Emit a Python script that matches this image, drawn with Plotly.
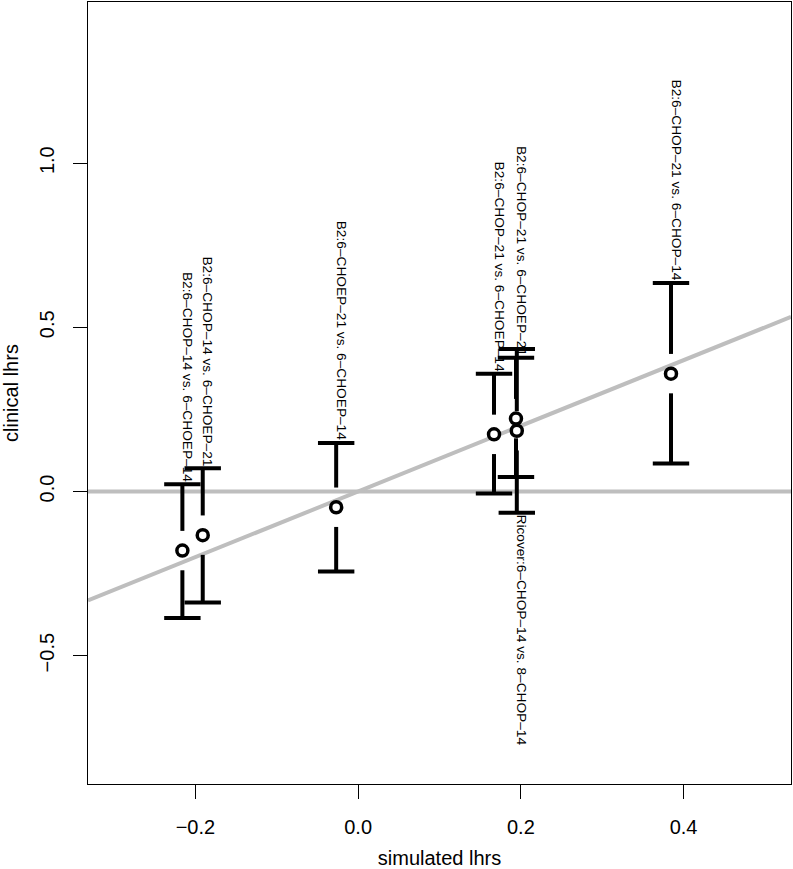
import plotly.graph_objects as go

# simulated vs clinical log hazard ratios, with CI
labels = [
    "B2:6–CHOP–14 vs. 6–CHOEP–14",
    "B2:6–CHOP–14 vs. 6–CHOEP–21",
    "B2:6–CHOEP–21 vs. 6–CHOEP–14",
    "B2:6–CHOP–21 vs. 6–CHOEP–14",
    "B2:6–CHOP–21 vs. 6–CHOEP–21",
    "Ricover:6–CHOP–14 vs. 8–CHOP–14",
    "B2:6–CHOP–21 vs. 6–CHOP–14",
]
simulated = [-0.216, -0.191, -0.027, 0.167, 0.194, 0.195, 0.3845]
clinical = [-0.180, -0.133, -0.048, 0.174, 0.222, 0.185, 0.359]
ci_low = [-0.385, -0.338, -0.244, -0.006, 0.044, -0.065, 0.085]
ci_high = [0.022, 0.071, 0.148, 0.359, 0.407, 0.434, 0.635]
label_side = ["above", "above", "above", "above", "above", "below", "above"]

x_range = [-0.332, 0.532]
y_range = [-0.891, 1.491]
FONT = "Liberation Sans, Arial, Helvetica, sans-serif"
gap = 0.06  # blank space around each point on the CI stems

fig = go.Figure()

# reference lines: y = 0 and y = x
fig.add_trace(go.Scatter(x=x_range, y=[0, 0], mode="lines",
                         line=dict(color="#BEBEBE", width=4), hoverinfo="skip"))
fig.add_trace(go.Scatter(x=x_range, y=x_range, mode="lines",
                         line=dict(color="#BEBEBE", width=4), hoverinfo="skip"))

# CI stems with a gap around the point
sx, sy = [], []
for x, y, lo, hi in zip(simulated, clinical, ci_low, ci_high):
    sx += [x, x, None, x, x, None]
    sy += [hi, y + gap, None, y - gap, lo, None]
fig.add_trace(go.Scatter(x=sx, y=sy, mode="lines",
                         line=dict(color="black", width=4), hoverinfo="skip"))

# caps
fig.add_trace(go.Scatter(
    x=simulated + simulated, y=ci_low + ci_high, mode="markers",
    marker=dict(symbol="line-ew", size=26, line=dict(color="black", width=4)),
    hoverinfo="skip"))

# points
fig.add_trace(go.Scatter(
    x=simulated, y=clinical, mode="markers", text=labels,
    marker=dict(symbol="circle", size=11, color="white",
                line=dict(color="black", width=3.5))))

for lab, x, lo, hi, side in zip(labels, simulated, ci_low, ci_high, label_side):
    fig.add_annotation(
        x=x, y=hi if side == "above" else lo, text=lab, showarrow=False,
        textangle=90, xshift=5,
        yanchor="bottom" if side == "above" else "top",
        font=dict(family=FONT, size=13.7, color="black"))

axis_common = dict(
    showgrid=False, zeroline=False, showline=True, linecolor="black",
    linewidth=1, mirror=True, ticks="outside", ticklen=14, tickwidth=1,
    tickcolor="black", ticklabelstandoff=11,
    tickfont=dict(family=FONT, size=20, color="black"),
)

fig.update_xaxes(range=x_range, tickvals=[-0.2, 0.0, 0.2, 0.4],
                 ticktext=["−0.2", "0.0", "0.2", "0.4"],
                 title=dict(text="simulated lhrs", standoff=16,
                            font=dict(family=FONT, size=20, color="black")),
                 **axis_common)
fig.update_yaxes(range=y_range, tickvals=[-0.5, 0.0, 0.5, 1.0],
                 ticktext=["−0.5", "0.0", "0.5", "1.0"], tickangle=-90,
                 title=dict(text="clinical lhrs", standoff=12,
                            font=dict(family=FONT, size=20, color="black")),
                 **axis_common)

fig.update_layout(
    width=793, height=869,
    margin=dict(l=88, r=2, t=1, b=82),
    paper_bgcolor="white", plot_bgcolor="white",
    showlegend=False,
)

fig.write_html(
    "out.html",
    config={"displayModeBar": False},
    post_script="document.body.style.margin='0';document.body.style.overflow='hidden';",
)
